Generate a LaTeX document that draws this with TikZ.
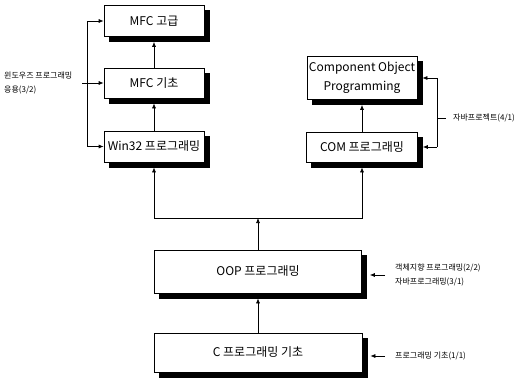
\documentclass[tikz,border=0pt]{standalone}
\usepackage{fontspec}
\setmainfont{Noto Sans CJK KR}
\usetikzlibrary{arrows.meta,calc}

\begin{document}
\begin{tikzpicture}[x=1pt,y=-1pt]

		\tikzset{line/.style={draw,line width=0.7pt}}
		\tikzset{arrow/.style={line,-{Latex[length=5pt,width=4pt]}}}
		\tikzset{box/.style={line,fill=white,inner sep=2pt,align=center,font=\fontsize{12}{19}\selectfont}}
		\tikzset{boxshadow/.style={draw=black,fill=black,inner sep=0pt}}
		\tikzset{note/.style={inner sep=0pt,anchor=west,align=left,font=\fontsize{8}{14}\selectfont}}

		\useasboundingbox (0,0) rectangle (525,383);

		% shadows first: id/x/y/width/height
		\foreach \id/\x/\y/\w/\h in {mfcadv/154/21/100/31,mfcbasic/154/83/100/30,win32/154/146.5/100/31,
				cop/362/78/110/43,com/362/147/111/30,oop/258/271.5/207/43,cbasic/258/352.5/208/39}
			\node[boxshadow,minimum width=\w pt,minimum height=\h pt] (\id-sh) at (\x+5,\y+5) {};

		% windows column
		\node[box,minimum width=100pt,minimum height=31pt] (mfcadv) at (154,21) {MFC 고급};
		\node[box,minimum width=100pt,minimum height=30pt] (mfcbasic) at (154,83) {MFC 기초};
		\node[box,minimum width=100pt,minimum height=31pt] (win32) at (154,146.5) {Win32 프로그래밍};

		% com column
		\node[box,minimum width=110pt,minimum height=43pt] (cop) at (362,78) {Component Object\\Programming};
		\node[box,minimum width=111pt,minimum height=30pt] (com) at (362,147) {COM 프로그래밍};

		% base
		\node[box,minimum width=207pt,minimum height=43pt] (oop) at (258,271.5) {OOP 프로그래밍};
		\node[box,minimum width=208pt,minimum height=39pt] (cbasic) at (258,352.5) {C 프로그래밍 기초};

		\node[note] (wapp) at (4,83) {윈도우즈 프로그래밍\\응용(3/2)};
		\node[note] (jproj) at (453,118) {자바프로젝트(4/1)};
		\node[note] (oopnote) at (395,275) {객체지향 프로그래밍(2/2)\\자바프로그래밍(3/1)};
		\node[note] (cnote) at (395,356) {프로그래밍 기초(1/1)};

		\coordinate (lbar) at (87,83);
		\coordinate (lstub) at (82,83);
		\coordinate (rbar) at (437,118);
		\coordinate (split) at (258,218);

		\path[arrow,shorten >=5pt] (mfcbasic.north) to (mfcadv.south);
		\path[arrow,shorten >=5pt] (win32.north) to (mfcbasic.south);
		\path[arrow,shorten >=5pt] (com.north) to (cop.south);
		\path[arrow,shorten >=5pt] (cbasic.north) to (oop.south);

		\path[arrow] (oop.north) to (split);
		\path[arrow,shorten >=5pt] (split) -| (win32.south);
		\path[arrow,shorten >=5pt] (split) -| (com.south);

		\path[line] (lbar |- mfcadv) to (lbar |- win32);
		\path[arrow] (lbar |- mfcadv) to (mfcadv.west);
		\path[arrow] (lstub) to (mfcbasic.west);
		\path[arrow] (lbar |- win32) to (win32.west);

		\path[line] (rbar |- cop) to (rbar |- com);
		\path[arrow,shorten >=5pt] (rbar |- cop) to (cop.east);
		\path[arrow,shorten >=5pt] (rbar |- com) to (com.east);
		\path[line,shorten >=7pt] (rbar) to (jproj.west);

		\path[arrow,shorten <=10pt,shorten >=8pt] (oopnote.west) to (oop.east |- oopnote.west);
		\path[arrow,shorten <=10pt,shorten >=8pt] (cnote.west) to (cbasic.east |- cnote.west);

	\end{tikzpicture}
\end{document}
